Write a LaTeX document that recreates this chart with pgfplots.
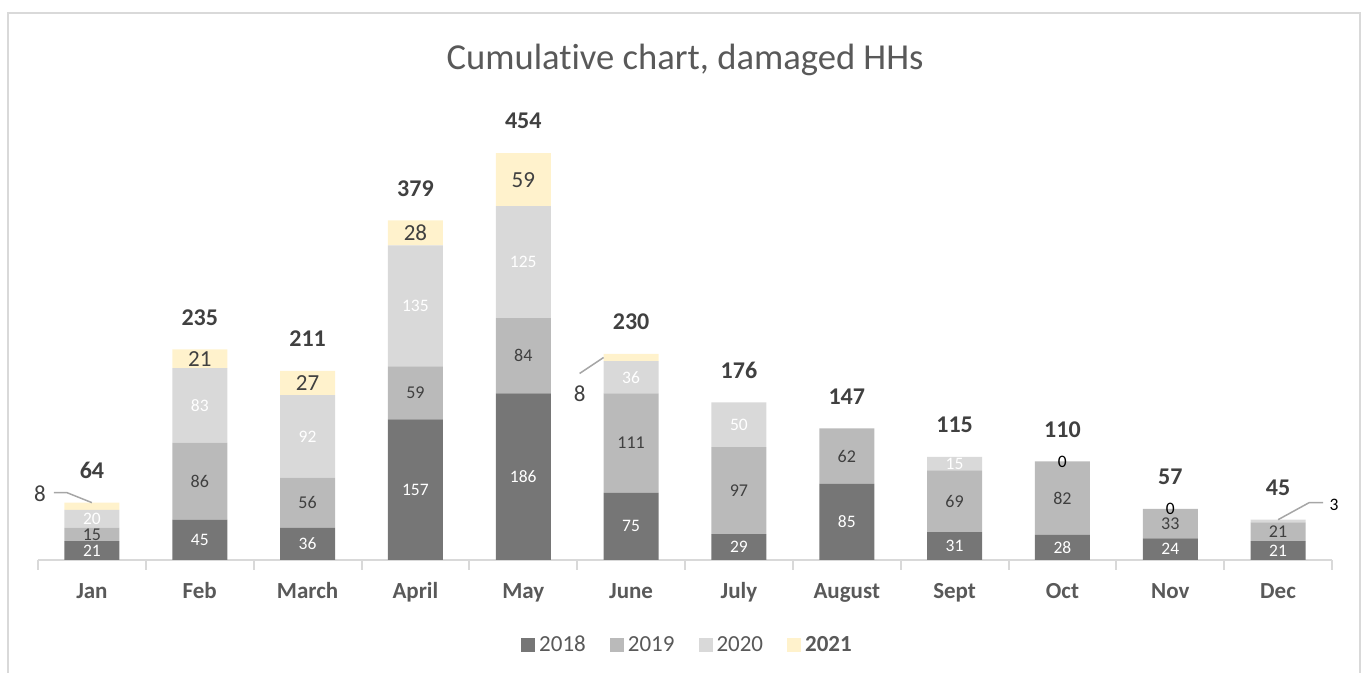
\documentclass[border=0pt]{standalone}
\usepackage{pgfplots}
\pgfplotsset{compat=1.18}
\usepackage{pgfplotstable}
\usepackage{fontspec}
\setmainfont{Carlito}[Ligatures={NoCommon}]
\definecolor{c18}{HTML}{767676}
\definecolor{c19}{HTML}{BABABA}
\definecolor{c20}{HTML}{D9D9D9}
\definecolor{c21}{HTML}{FFF2CC}
\definecolor{axisgrey}{HTML}{D9D9D9}
\definecolor{labgrey}{HTML}{595959}
\definecolor{dark}{HTML}{404040}
\definecolor{leader}{HTML}{A6A6A6}
\pgfplotsset{sqlegend/.style={legend image code/.code={\fill[##1] (0pt,-3.5pt) rectangle (7pt,3.5pt);}}}

\pgfplotstableread{
x a b c d
0 21 15 20 8
1 45 86 83 21
2 36 56 92 27
3 157 59 135 28
4 186 84 125 59
5 75 111 36 8
6 29 97 50 0
7 85 62 0 0
8 31 69 15 0
9 28 82 0 0
10 24 33 0 0
11 21 21 3 0
}\data

\pgfplotstableread{
x y t
0 10.5 21
1 22.5 45
2 18 36
3 78.5 157
4 93 186
5 37.5 75
6 14.5 29
7 42.5 85
8 15.5 31
9 14 28
10 12 24
11 10.5 21
}\lA
\pgfplotstableread{
x y t
0 28.5 15
1 88 86
2 64 56
3 186.5 59
4 228 84
5 130.5 111
6 77.5 97
7 116 62
8 65.5 69
9 69 82
10 40.5 33
11 31.5 21
}\lB
\pgfplotstableread{
x y t
0 46 20
1 172.5 83
2 138 92
3 283.5 135
4 332.5 125
5 204 36
6 151 50
8 107.5 15
}\lC
\pgfplotstableread{
x y t
1 224.5 21
2 197.5 27
3 365 28
4 424.5 59
}\lD
\pgfplotstableread{
x y t
0 64 64
1 235 235
2 211 211
3 379 379
4 454 454
5 230 230
6 176 176
7 147 147
8 115 115
9 110 110
10 57 57
11 45 45
}\tot
\pgfplotstableread{
x y t
9 110 0
10 57 0
}\zer

\begin{document}
\begin{tikzpicture}
\path[use as bounding box] (0,0) rectangle (682.5pt,336.5pt);
\draw[axisgrey, line width=1pt] (4pt,-2pt) -- (4pt,330pt) -- (680pt,330pt) -- (680pt,-2pt);
\node[font=\fontsize{18.3}{20}\selectfont, text=labgrey] at (342.5pt,306.5pt) {Cumulative chart, damaged HHs};

\begin{axis}[
  at={(19pt,56.5pt)}, anchor=south west,
  scale only axis, width=647pt, height=224pt,
  xmin=-0.5, xmax=11.5, ymin=0, ymax=500,
  ybar stacked, bar width=27.5pt,
  axis y line=none, axis x line*=bottom,
  x axis line style={draw=axisgrey, line width=1pt, -},
  xtick={0,...,11},
  xticklabels={Jan,Feb,March,April,May,June,July,August,Sept,Oct,Nov,Dec},
  major tick length=0pt,
  minor xtick={-0.5,0.5,...,11.5}, minor tick length=5pt, tick align=outside,
  every minor tick/.style={draw=axisgrey, line width=1pt},
  xticklabel style={font=\bfseries\fontsize{11.5}{13}\selectfont, text=labgrey, anchor=base, yshift=-19.25pt},
  clip=false,
]
\addplot[fill=c18, draw=none] table[x=x,y=a] {\data};
\addplot[fill=c19, draw=none] table[x=x,y=b] {\data};
\addplot[fill=c20, draw=none] table[x=x,y=c] {\data};
\addplot[fill=c21, draw=none] table[x=x,y=d] {\data};
\end{axis}

\begin{axis}[
  at={(19pt,56.5pt)}, anchor=south west,
  scale only axis, width=647pt, height=224pt,
  xmin=-0.5, xmax=11.5, ymin=0, ymax=500,
  hide axis, clip=false,
  legend style={draw=none, at={(0.5027,-0.19)}, anchor=center, legend columns=4,
    font=\fontsize{11.5}{13}\selectfont, text=labgrey,
    /tikz/every even column/.append style={column sep=10pt},
    /tikz/every odd column/.append style={column sep=0pt}},
  legend cell align=left,
]
\addplot[draw=none, mark=none, forget plot, nodes near coords, point meta=explicit symbolic,
  every node near coord/.append style={anchor=center, text=white, font=\fontsize{8.75}{10}\selectfont}]
  table[x=x,y=y,meta=t] {\lA};
\addplot[draw=none, mark=none, forget plot, nodes near coords, point meta=explicit symbolic,
  every node near coord/.append style={anchor=center, text=dark, font=\fontsize{9}{10}\selectfont}]
  table[x=x,y=y,meta=t] {\lB};
\addplot[draw=none, mark=none, forget plot, nodes near coords, point meta=explicit symbolic,
  every node near coord/.append style={anchor=center, text=white, font=\fontsize{8.75}{10}\selectfont}]
  table[x=x,y=y,meta=t] {\lC};
\addplot[draw=none, mark=none, forget plot, nodes near coords, point meta=explicit symbolic,
  every node near coord/.append style={anchor=center, text=dark, font=\fontsize{11.5}{13}\selectfont}]
  table[x=x,y=y,meta=t] {\lD};
\addplot[draw=none, mark=none, forget plot, nodes near coords, point meta=explicit symbolic,
  every node near coord/.append style={anchor=center, yshift=16pt, text=dark, font=\bfseries\fontsize{12}{14}\selectfont}]
  table[x=x,y=y,meta=t] {\tot};
\addplot[draw=none, mark=none, forget plot, nodes near coords, point meta=explicit symbolic,
  every node near coord/.append style={anchor=center, text=black, font=\fontsize{8.75}{10}\selectfont}]
  table[x=x,y=y,meta=t] {\zer};

\draw[leader, line width=0.75pt] (axis cs:0,64) -- ++(-12.5pt,5pt) -- ++(-6.5pt,0pt);
\node[text=dark, font=\fontsize{11.5}{13}\selectfont] at ([xshift=-26pt,yshift=4.5pt]axis cs:0,64) {8};
\draw[leader, line width=0.75pt] ([xshift=-13.75pt]axis cs:5,226) -- ++(-12pt,-8pt);
\node[text=dark, font=\fontsize{11.5}{13}\selectfont] at ([xshift=-25.75pt,yshift=-18pt]axis cs:5,226) {8};
\draw[leader, line width=0.75pt] (axis cs:11,45) -- ++(15.5pt,8.5pt) -- ++(7pt,0pt);
\node[text=black, font=\fontsize{8.75}{10}\selectfont] at ([xshift=28pt,yshift=7.5pt]axis cs:11,45) {3};

\addlegendimage{sqlegend, fill=c18, draw=none}
\addlegendentry{2018}
\addlegendimage{sqlegend, fill=c19, draw=none}
\addlegendentry{2019}
\addlegendimage{sqlegend, fill=c20, draw=none}
\addlegendentry{2020}
\addlegendimage{sqlegend, fill=c21, draw=none}
\addlegendentry{\textbf{2021}}
\end{axis}
\end{tikzpicture}
\end{document}
